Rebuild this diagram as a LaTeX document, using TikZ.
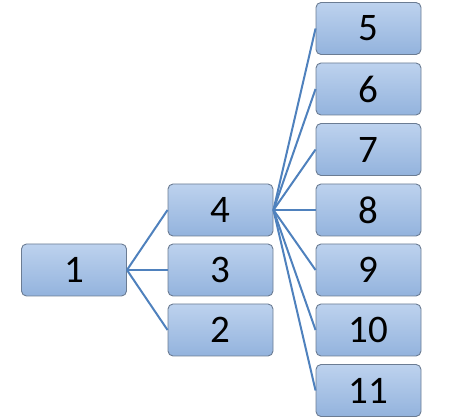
\documentclass[tikz,border=0pt]{standalone}
\usepackage{fontspec}
\setmainfont{Carlito}
\definecolor{boxtop}{HTML}{BDD2EE}
\definecolor{boxbot}{HTML}{93B3DD}
\definecolor{boxedge}{HTML}{6B7C93}
\definecolor{linkc}{HTML}{4F81BD}
\begin{document}
\begin{tikzpicture}[x=1pt,y=1pt,
  boxn/.style={draw=boxedge, line width=0.9pt, rounded corners=5pt,
    top color=boxtop, bottom color=boxbot, minimum width=105pt,
    minimum height=52pt, inner sep=0pt, font=\fontsize{39}{41}\selectfont},
  link/.style={draw=linkc, line width=2pt}]
\useasboundingbox (0,0) rectangle (453,420);
\node[boxn] (n1) at (74,150) {1};
\node[boxn] (n4) at (220.5,210) {4};
\node[boxn] (n3) at (220.5,150) {3};
\node[boxn] (n2) at (220.5,90) {2};
\foreach \i/\y in {5/391.5,6/331,7/270.5,8/210,9/150,10/90,11/29.5}
  \node[boxn] (n\i) at (368.5,\y) {\i};
\foreach \t in {4,3,2}
  \draw[link] (n1.east) -- (n\t.west);
\foreach \t in {5,6,7,8,9,10,11}
  \draw[link] (n4.east) -- (n\t.west);
\end{tikzpicture}
\end{document}
